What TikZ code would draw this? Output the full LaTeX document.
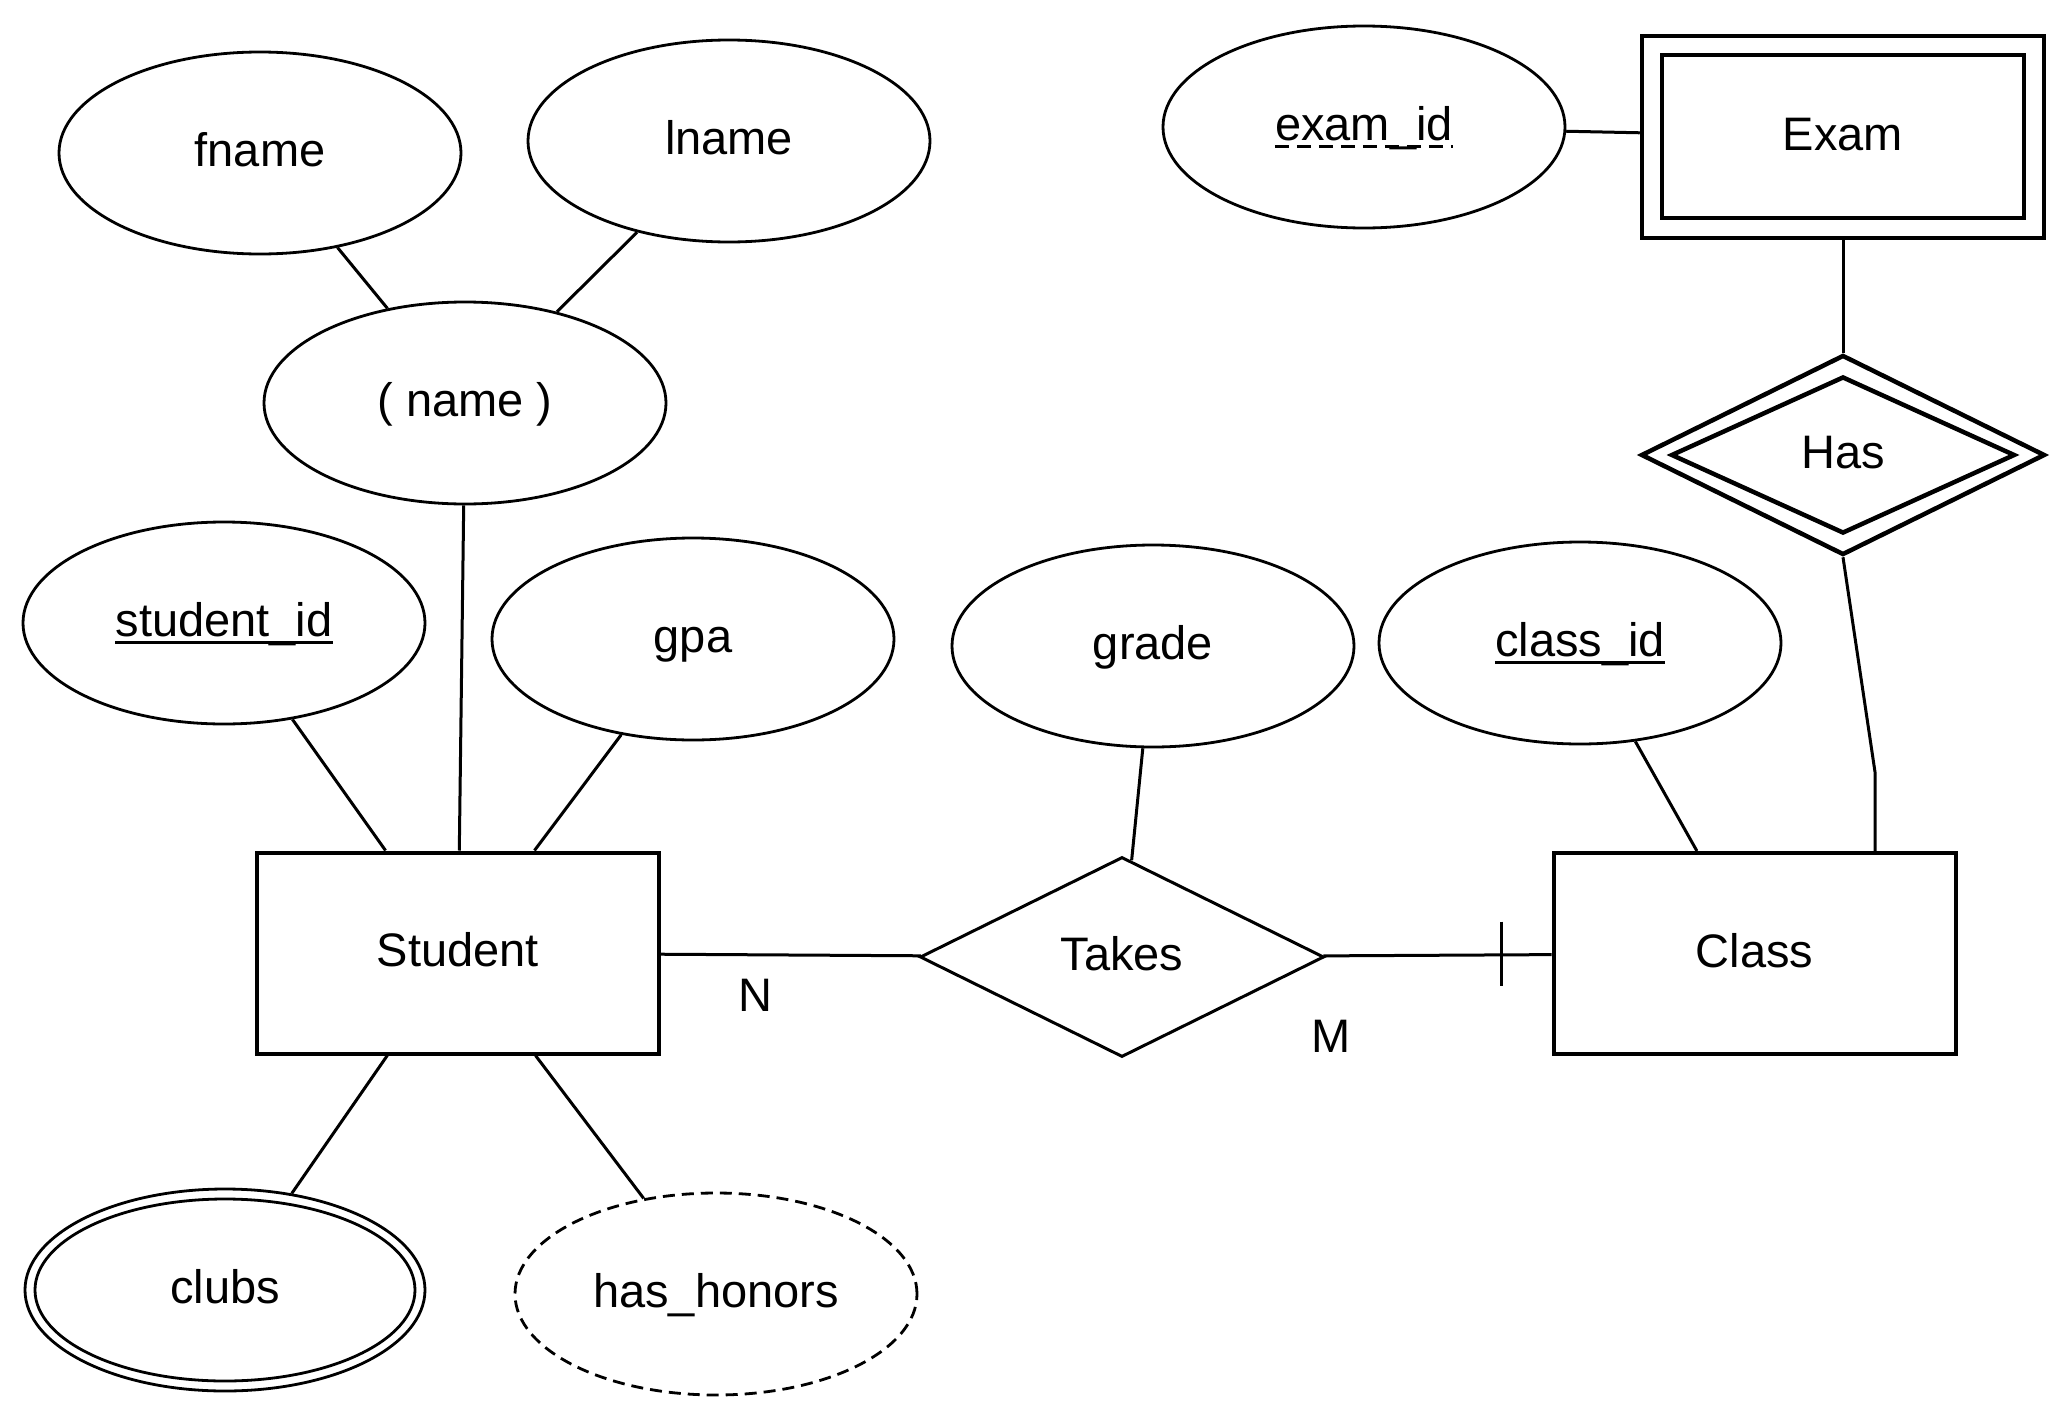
\documentclass[tikz,border=0pt]{standalone}
\usepackage{fontspec}
\setmainfont{Liberation Sans}
\usetikzlibrary{shapes.geometric}
\begin{document}
\begin{tikzpicture}[x=1pt,y=-1pt,
  every node/.style={font=\fontsize{47}{56}\selectfont, text height=36pt, text depth=9pt, inner sep=0pt},
  attr/.style={ellipse, draw, line width=2.8pt, minimum width=402pt, minimum height=202pt},
  ent/.style={rectangle, draw, line width=4pt, minimum width=402pt, minimum height=201pt},
  rel/.style={diamond, draw, line width=3pt, minimum width=404pt, minimum height=200pt},
  weak/.style={line width=4.5pt},
  conn/.style={line width=3pt},
  uline/.style={line width=3.2pt}
]
\useasboundingbox (0,0) rectangle (2070,1424);

% attributes
\node[attr] (fname) at (260,153) {fname};
\node[attr] (lname) at (729,141) {lname};
\node[attr] (name) at (465,403) {( name )};
\node[attr] (sid) at (224,623) {};
\node (sidt) at (224,623) {student\_id};
\node[attr] (gpa) at (693,639) {gpa};
\node[attr] (grade) at (1153,646) {grade};
\node[attr] (cid) at (1580,643) {};
\node (cidt) at (1580,643) {class\_id};
\node[attr] (eid) at (1364,127) {};
\node (eidt) at (1364,127) {exam\_id};
\node[attr, minimum width=400pt] (clubs) at (225,1290) {clubs};
\node[attr, minimum width=380pt, minimum height=182pt] (clubsin) at (225,1290) {};
\node[attr, dash pattern=on 12pt off 7pt] (hon) at (716,1294) {has\_honors};

% entities
\node[ent] (student) at (458,953) {Student};
\node[ent] (class) at (1754.5,953.5) {Class};
\node[ent, weak, minimum width=402pt, minimum height=202pt] (exam) at (1843,137) {Exam};
\node[ent, weak, minimum width=362pt, minimum height=163pt] (examin) at (1843,136.5) {};

% relationships
\node[rel] (takes) at (1122,957) {Takes};
\node[rel, weak] (has) at (1843,455) {Has};
\node[rel, weak, minimum width=344pt, minimum height=157pt] (hasin) at (1843,455) {};

% underlines
\draw[uline] ([yshift=-6pt]sidt.base west) -- ([yshift=-6pt]sidt.base east);
\draw[uline] ([yshift=-6pt]cidt.base west) -- ([yshift=-6pt]cidt.base east);
\draw[uline, dash pattern=on 14pt off 8pt] ([yshift=-6pt]eidt.base west) -- ([yshift=-6pt]eidt.base east);

% connectors
\draw[conn] (fname) -- (name);
\draw[conn] (lname) -- (name);
\draw[conn] (name) -- (student);
\draw[conn] (sid) -- (student);
\draw[conn] (gpa) -- (student);
\draw[conn] (student) -- (clubs);
\draw[conn] (student) -- (hon);
\draw[conn] (student) -- (takes);
\draw[conn] (grade) -- (takes);
\draw[conn] (takes) -- (class);
\draw[conn] (cid) -- (class);
\draw[conn] (eid) -- (exam);
\draw[conn] (exam.south) -- (has.north);
\coordinate (hb) at (1875,772);
\draw[conn] (has.south) -- (hb) -- (hb |- class.north);
\draw[line width=3.4pt] ([xshift=-50pt,yshift=32pt]class.west) -- ([xshift=-50pt,yshift=-32pt]class.west);

% cardinalities
\node (N) at (755,998) {N};
\node (M) at (1331,1039) {M};
\end{tikzpicture}
\end{document}
